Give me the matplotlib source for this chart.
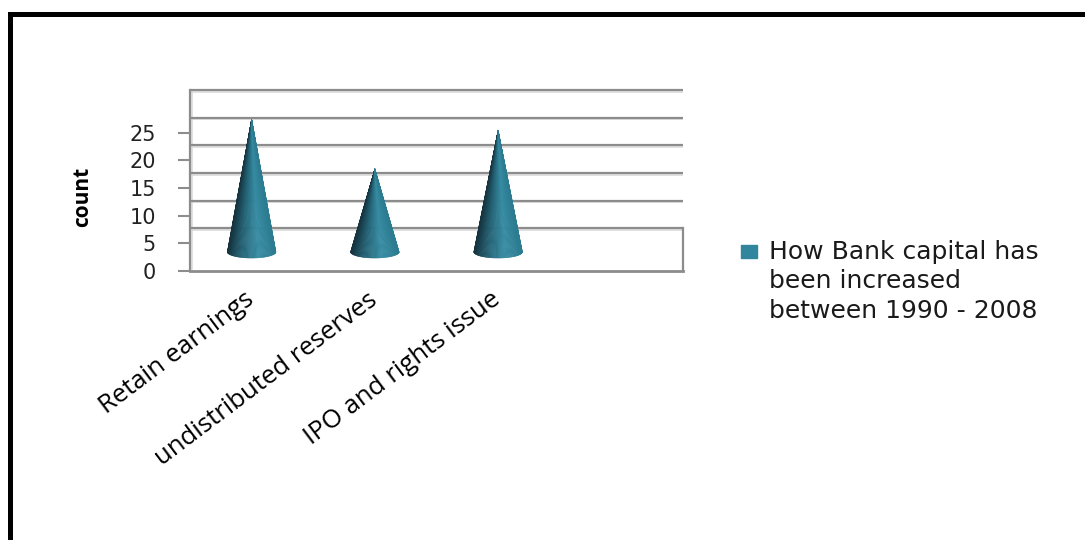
import numpy as np
import matplotlib.pyplot as plt
from matplotlib.collections import PolyCollection
from matplotlib.colors import LinearSegmentedColormap
from matplotlib.patches import Rectangle
from matplotlib.lines import Line2D

# data
categories = ['Retain earnings', 'undistributed reserves', 'IPO and rights issue']
counts = [24, 15, 22]
y_ticks = [0, 5, 10, 15, 20, 25]
y_label = 'count'
legend_lines = ['How Bank capital has', 'been increased', 'between 1990 - 2008']

W, H = 1085, 540
Y0 = 270.7        # pixel row of value 0 (front)
PPU = 5.52        # pixels per value unit
TOP = 33.1
DEPTH = 7.7       # back wall is lifted by this many units
BASE = 3.4        # cones stand mid-depth
R = 0.197         # cone radius (category units)
E = 1.1           # half height of base ellipse (value units)
GRID = '#8c8c8c'
TEAL = '#31859c'

cone_cmap = LinearSegmentedColormap.from_list(
    'cone', [(0, '#15323d'), (0.3, '#236275'), (0.65, '#368ca3'), (1, '#2c7b90')])


def draw_cone(ax, cx, value, n=64):
    th = np.linspace(np.pi, 0, n + 1)
    bx = cx + R * np.cos(th)
    by = BASE - E * np.sin(th)
    tip = (cx, BASE + value)
    polys = [[tip, (bx[k], by[k]), (bx[k + 1], by[k + 1])] for k in range(n)]
    u = (np.cos((th[:-1] + th[1:]) / 2) + 1) / 2
    cols = cone_cmap(u)
    pc = PolyCollection(polys, facecolors=cols, edgecolors=cols, linewidths=0.4, zorder=4)
    ax.add_collection(pc)


fig = plt.figure(figsize=(W / 100, H / 100), dpi=100)
ax = fig.add_axes([190 / W, (H - Y0) / H, 493 / W, TOP * PPU / H])
ax.set_xlim(-0.5, 3.5)
ax.set_ylim(0, TOP)
for s in ax.spines.values():
    s.set_visible(False)

# back wall
for v in y_ticks:
    ax.plot([-0.5, 3.5], [v + DEPTH - 0.3] * 2, color='#dadada', lw=1.2, zorder=1)
    ax.plot([-0.5, 3.5], [v + DEPTH] * 2, color=GRID, lw=1.6, zorder=2)
ax.plot([-0.5, -0.5], [0, y_ticks[-1] + DEPTH], color=GRID, lw=1.6, zorder=2, clip_on=False)
ax.plot([-0.48, -0.48], [0.3, y_ticks[-1] + DEPTH], color='#dadada', lw=1.2, zorder=1)
# floor
ax.plot([-0.5, 3.5], [0, 0], color=GRID, lw=2, zorder=2, clip_on=False)
ax.plot([3.5, 3.5], [0, DEPTH], color=GRID, lw=1.6, zorder=2, clip_on=False)

for i, v in enumerate(counts):
    draw_cone(ax, i, v)

ax.set_yticks(y_ticks)
ax.tick_params(axis='y', length=8.6, width=1.5, color=GRID, pad=16,
               labelsize=15, labelcolor='#222222')
ax.set_xticks(range(len(categories)))
ax.set_xticklabels(categories, rotation=37, ha='right', va='center',
                   rotation_mode='anchor', fontsize=18.5, family='Open Sans')
ax.tick_params(axis='x', length=0, pad=19)

ax.set_ylabel(y_label, fontsize=15, fontweight='bold', family='Open Sans')
ax.yaxis.set_label_coords(-0.197, 0.403)

# legend
fig.patches.append(Rectangle((741 / W, 1 - 258 / H), 16 / W, 13 / H,
                             transform=fig.transFigure, color=TEAL))
for i, line in enumerate(legend_lines):
    fig.text(769 / W, 1 - (259 + 29.5 * i) / H, line, fontsize=18,
             va='baseline', ha='left', color='#1a1a1a')

# outer frame
fig.add_artist(Line2D([9.5 / W, 9.5 / W], [0, 1 - 13.5 / H], color='k', lw=3.6))
fig.add_artist(Line2D([9.5 / W, 1], [1 - 13.5 / H] * 2, color='k', lw=3.6))

fig.savefig('out.png', dpi=100)
